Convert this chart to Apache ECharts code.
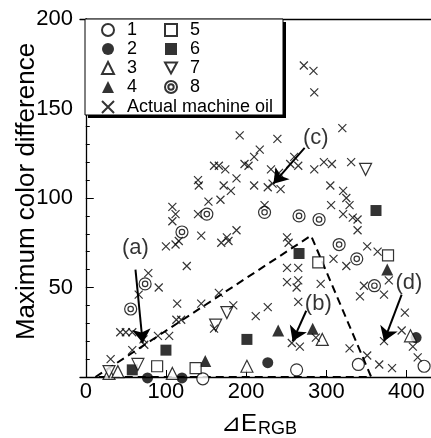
<!DOCTYPE html>
<html>
<head>
<meta charset="utf-8">
<script src="https://cdn.jsdelivr.net/npm/echarts@6/dist/echarts.min.js"></script>
<style>
  html, body { margin: 0; padding: 0; background: #fff; }
  #chart { width: 431px; height: 438px; }
</style>
</head>
<body>
<div id="chart"></div>
<script>
var FONT = 'Liberation Sans, Arial, sans-serif';

// tick labels
var xTicks = [0, 100, 200, 300, 400];
var yTicks = [50, 100, 150, 200];

// samples 1..8, [dE_RGB, max color difference]
var s1 = [[146, -1], [263, 4], [340, 7], [422, 6]];
var s2 = [[77, -0.5], [120, -0.5], [227, 8], [412, 22]];
var s3 = [[29, 2], [40, 3], [108, 2], [201, 6], [295, 21], [405, 23]];
var s4 = [[149, 9], [240, 26], [283, 27], [376, 60]];
var s5 = [[89, 6], [137, 5], [290, 64], [377, 68]];
var s6 = [[58, 4], [100, 15], [201, 21], [266, 69], [362, 93]];
var s7 = [[29, 3], [65, 7], [162, 29], [176, 36], [349, 116]];
var s8 = [[120, 81], [151, 91], [223, 92], [266, 90], [291, 88], [316, 74], [338, 66], [56, 38], [74, 52], [360, 51]];

// actual machine oil
var oil = [
  [272, 174], [284, 171], [285, 159], [320, 139], [239, 133], [192, 135],
  [210, 123], [198, 119], [203, 118], [160, 118], [166, 118], [174, 116],
  [140, 110], [141, 107], [188, 111], [172, 107], [181, 104], [210, 107],
  [108, 95], [112, 91], [108, 87], [140, 91], [153, 98], [168, 99], [144, 79],
  [100, 73], [112, 74], [116, 76], [169, 75], [176, 78], [178, 76], [188, 82], [126, 62],
  [217, 127], [260, 123], [255, 119], [265, 118], [231, 116], [285, 116], [297, 120],
  [307, 119], [331, 120], [241, 114], [227, 106], [233, 108], [243, 105], [305, 107],
  [321, 104], [325, 100], [329, 96], [306, 96], [223, 96], [321, 91], [333, 89],
  [339, 88], [339, 82], [251, 78], [253, 75], [351, 73], [364, 70], [309, 66],
  [325, 62], [251, 61], [265, 61],
  [251, 53], [265, 54], [263, 50], [293, 52], [347, 51], [378, 54], [372, 46], [342, 45],
  [265, 42], [227, 39], [212, 34], [257, 19], [267, 17], [287, 22], [329, 16], [351, 12],
  [366, 7], [382, 5], [372, 20], [398, 36], [394, 26], [408, 17], [414, 11],
  [78, 58], [91, 50], [66, 46], [114, 41], [144, 41], [166, 47], [184, 40], [113, 32],
  [119, 32], [43, 25], [50, 25], [58, 25], [72, 21], [73, 18], [90, 23], [104, 23],
  [58, 15], [31, 10], [160, 27]
];

// dashed region and annotations
var regionLine = [[12, 0], [281, 79], [356, 0], [12, 0]];
var arrows = [
  [[62, 60], [71, 19]],
  [[275, 37], [258, 20]],
  [[273, 128], [234, 108]],
  [[394, 46], [372, 20]]
];
var notes = [
  { name: '(a)', value: [62, 72] },
  { name: '(b)', value: [290, 41] },
  { name: '(c)', value: [287, 133.5] },
  { name: '(d)', value: [403, 52.5] }
];

var crossPath = 'path://M0,0 L10,10 M10,0 L0,10';
var ringPath = 'path://M0,-10 A10,10 0 1,1 0,10 A10,10 0 1,1 0,-10 Z M0,-4.5 A4.5,4.5 0 1,1 0,4.5 A4.5,4.5 0 1,1 0,-4.5 Z';
var downTri = 'path://M0,0 L10,0 L5,9 Z';

var hollow = { color: '#fff', borderColor: '#000', borderWidth: 1.2 };
var solid = { color: '#000', borderColor: '#000', borderWidth: 0 };

function sc(name, data, symbol, size, style) {
  return {
    name: name,
    type: 'scatter',
    data: data,
    symbol: symbol,
    symbolSize: size,
    itemStyle: style,
    clip: false,
    silent: true,
    z: 3
  };
}

var chart = echarts.init(document.getElementById('chart'));

var legendBase = {
  orient: 'vertical',
  itemWidth: 12,
  itemHeight: 12,
  itemGap: 0,
  padding: 0,
  selectedMode: false,
  z: 20,
  textStyle: { fontSize: 18, lineHeight: 19, color: '#000', fontFamily: FONT, padding: [0, 0, 0, 8] }
};

var option = {
  animation: false,
  backgroundColor: '#fff',
  textStyle: { fontFamily: FONT },
  grid: { left: 80, top: 19, right: 0, bottom: 61 },
  legend: [
    Object.assign({}, legendBase, { data: ['1', '2', '3', '4'], left: 101, top: 20.5 }),
    Object.assign({}, legendBase, { data: ['5', '6', '7', '8'], left: 164, top: 20.5 }),
    Object.assign({}, legendBase, { data: ['Actual machine oil'], left: 101, top: 97.5 })
  ],
  xAxis: [
    {
      type: 'value',
      min: -7.2,
      max: 430.6,
      axisLine: { lineStyle: { color: '#000', width: 1.3 } },
      axisTick: { inside: true, length: 7, customValues: xTicks, lineStyle: { color: '#000', width: 1 } },
      axisLabel: { customValues: xTicks, fontSize: 22, color: '#000', margin: 4, fontFamily: FONT },
      splitLine: { show: false }
    },
    {
      type: 'value',
      position: 'top',
      min: -7.2,
      max: 430.6,
      axisLine: { show: true, lineStyle: { color: '#000', width: 1.3 } },
      axisTick: { show: false },
      axisLabel: { show: false },
      splitLine: { show: false }
    }
  ],
  yAxis: {
    type: 'value',
    min: 0,
    max: 200,
    interval: 50,
    axisLine: { show: true, lineStyle: { color: '#000', width: 1.3 } },
    axisTick: { inside: true, length: 8, lineStyle: { color: '#000', width: 1 } },
    minorTick: { show: true, splitNumber: 5, length: 4, lineStyle: { color: '#000', width: 1 } },
    axisLabel: {
      fontSize: 22, color: '#000', margin: 7, fontFamily: FONT,
      formatter: function (v) { return yTicks.indexOf(v) >= 0 ? String(v) : ''; }
    },
    splitLine: { show: false }
  },
  graphic: [
    { type: 'rect', z: 10, shape: { x: 88, y: 22, width: 198, height: 96 }, style: { fill: '#000' } },
    { type: 'rect', z: 11, shape: { x: 85, y: 19, width: 198, height: 96 }, style: { fill: '#fff', stroke: '#000', lineWidth: 1 } },
    {
      type: 'text', x: 27, y: 191.5, rotation: Math.PI / 2, z: 5,
      style: { text: 'Maximum color difference', font: '26px ' + FONT, fill: '#000', textAlign: 'center', textVerticalAlign: 'middle' }
    },
    {
      type: 'text', x: 257, y: 424, z: 5,
      style: { text: '⊿E', font: '24px ' + FONT, fill: '#000', textAlign: 'right', textVerticalAlign: 'middle' }
    },
    {
      type: 'text', x: 258, y: 429, z: 5,
      style: { text: 'RGB', font: '18px ' + FONT, fill: '#000', textAlign: 'left', textVerticalAlign: 'middle' }
    }
  ],
  series: [
    sc('1', s1, 'circle', 12, hollow),
    sc('2', s2, 'circle', 11, solid),
    sc('3', s3, 'triangle', 12, hollow),
    sc('4', s4, 'triangle', 12, solid),
    sc('5', s5, 'rect', 11, hollow),
    sc('6', s6, 'rect', 11, solid),
    sc('7', s7, downTri, 12, hollow),
    sc('8', s8, ringPath, 12, hollow),
    sc('Actual machine oil', oil, crossPath, 8, { color: 'transparent', borderColor: '#000', borderWidth: 1.2 }),
    {
      type: 'line',
      data: regionLine,
      showSymbol: false,
      clip: false,
      silent: true,
      lineStyle: { color: '#000', width: 2, type: [8, 5] },
      z: 2
    },
    {
      type: 'lines',
      coordinateSystem: 'cartesian2d',
      data: arrows.map(function (a) { return { coords: a }; }),
      symbol: ['none', 'arrow'],
      symbolSize: [7, 14],
      lineStyle: { color: '#000', width: 2, opacity: 1 },
      silent: true,
      z: 4
    },
    {
      type: 'scatter',
      data: notes,
      symbolSize: 0,
      clip: false,
      silent: true,
      label: { show: true, position: 'inside', formatter: '{b}', fontSize: 22, color: '#000', fontFamily: FONT },
      z: 5
    }
  ]
};

chart.setOption(option);
</script>
</body>
</html>
